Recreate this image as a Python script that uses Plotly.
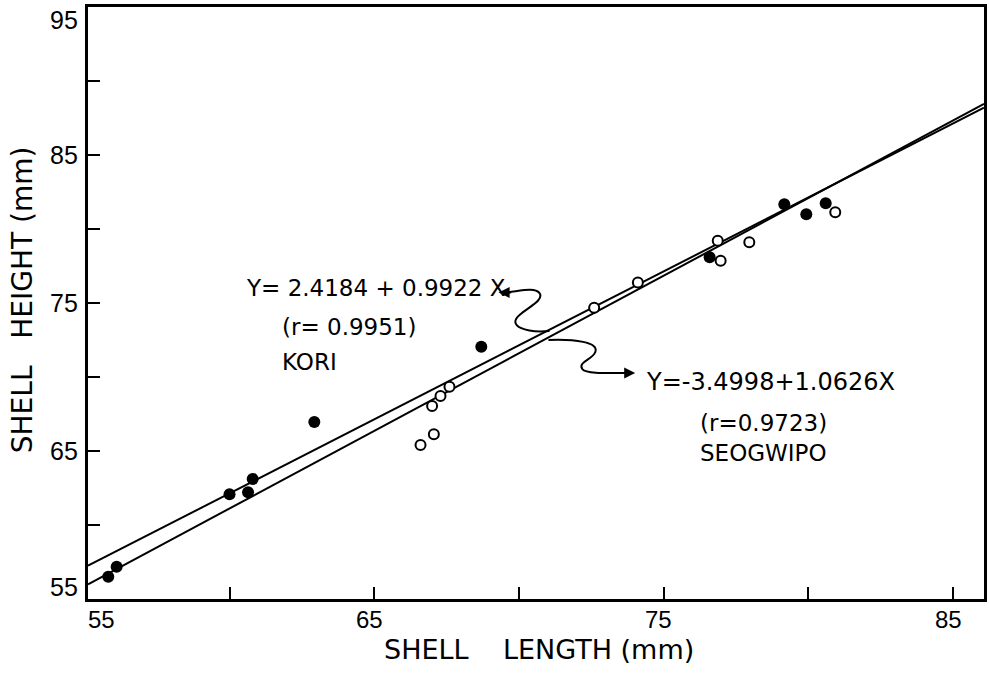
import plotly.graph_objects as go

# ---- data ----
kori_x = [55.81, 56.10, 60.00, 60.64, 60.80, 62.93, 68.70, 76.59, 79.17, 79.93, 80.60]
kori_y = [56.51, 57.18, 62.07, 62.21, 63.11, 66.96, 72.05, 78.09, 81.67, 81.00, 81.74]
seog_x = [66.60, 67.06, 67.00, 67.29, 67.60, 72.60, 74.11, 76.87, 76.97, 77.96, 80.93]
seog_y = [65.41, 66.13, 68.04, 68.72, 69.34, 74.68, 76.39, 79.21, 77.86, 79.10, 81.13]

fit_x = [55.11, 86.07]
kori_fit_y = [57.25, 88.20]
seog_fit_y = [55.99, 88.45]

x_ticks = [55, 60, 65, 70, 75, 80, 85]
x_tick_labels = ["55", "", "65", "", "75", "", "85"]
y_ticks = [55, 60, 65, 70, 75, 80, 85, 90, 95]
y_tick_labels = ["55", "", "65", "", "75", "", "85", "", "95"]

kori_text = ["Y= 2.4184 + 0.9922 X", "(r= 0.9951)", "KORI"]
seog_text = ["Y=-3.4998+1.0626X", "(r=0.9723)", "SEOGWIPO"]

x_title = "SHELL\u00a0\u00a0\u00a0\u00a0LENGTH\u00a0(mm)"
y_title = "SHELL\u00a0\u00a0\u00a0HEIGHT\u00a0(mm)"

# ---- layout geometry ----
W, H = 989, 673
L, R, T, B = 88, 2, 7, 74
PW, PH = W - L - R, H - T - B
X_RANGE = [55.11, 86.07]
Y_RANGE = [55, 95]

def px(xp):
    return (xp - L) / PW

def py(yp):
    return (H - B - yp) / PH

YTICK_FONT = dict(family="Liberation Sans, Arial, sans-serif", size=25, color="black")
XTICK_FONT = dict(family="Liberation Sans, Arial, sans-serif", size=24, color="black")
TXT_FONT = dict(family="DejaVu Sans, sans-serif", size=23, color="black")
XTITLE_FONT = dict(family="DejaVu Sans, sans-serif", size=27, color="black")
YTITLE_FONT = dict(family="DejaVu Sans, sans-serif", size=28, color="black")

fig = go.Figure()
fig.add_trace(go.Scatter(x=fit_x, y=kori_fit_y, mode="lines",
                         line=dict(color="black", width=2), hoverinfo="skip"))
fig.add_trace(go.Scatter(x=fit_x, y=seog_fit_y, mode="lines",
                         line=dict(color="black", width=2), hoverinfo="skip"))
fig.add_trace(go.Scatter(x=kori_x, y=kori_y, mode="markers", name="KORI",
                         marker=dict(symbol="circle", size=12, color="black")))
fig.add_trace(go.Scatter(x=seog_x, y=seog_y, mode="markers", name="SEOGWIPO",
                         marker=dict(symbol="circle", size=10, color="white",
                                     line=dict(color="black", width=2))))

ann = []
# y tick labels
for v, t in zip(y_ticks, y_tick_labels):
    if not t:
        continue
    if v == Y_RANGE[1]:
        ya, sh = "top", 3
    elif v == Y_RANGE[0]:
        ya, sh = "bottom", -4
    else:
        ya, sh = "middle", 0
    ann.append(dict(x=0, xref="paper", y=v, yref="y", text=t, showarrow=False,
                    xanchor="right", yanchor=ya, xshift=-8, yshift=sh, font=YTICK_FONT))
# x tick labels
for v, t in zip(x_ticks, x_tick_labels):
    if not t:
        continue
    if v == 55:
        ann.append(dict(x=X_RANGE[0], xref="x", y=0, yref="paper", text=t, showarrow=False,
                        xanchor="left", yanchor="top", yshift=-5, xshift=-2, font=XTICK_FONT))
    else:
        ann.append(dict(x=v, xref="x", y=0, yref="paper", text=t, showarrow=False,
                        xanchor="center", yanchor="top", yshift=-5, xshift=-5, font=XTICK_FONT))

# axis titles
ann.append(dict(x=px(541), y=py(649), xref="paper", yref="paper", text=x_title,
                showarrow=False, xanchor="center", yanchor="middle", font=XTITLE_FONT))
ann.append(dict(x=px(22), y=py(300), xref="paper", yref="paper", text=y_title,
                showarrow=False, xanchor="center", yanchor="middle", textangle=-90,
                font=YTITLE_FONT))

# equation labels
for (xl, yl), t in zip([(245, 288), (281, 327), (281, 362)], kori_text):
    ann.append(dict(x=px(xl), y=py(yl), xref="paper", yref="paper", text=t,
                    showarrow=False, xanchor="left", yanchor="middle", font=TXT_FONT))
for (xl, yl), t in zip([(646, 382), (700, 423), (700, 453)], seog_text):
    ann.append(dict(x=px(xl), y=py(yl), xref="paper", yref="paper", text=t,
                    showarrow=False, xanchor="left", yanchor="middle",
                    font=dict(TXT_FONT, size=24) if t.startswith("Y") else TXT_FONT))

# arrowheads
ann.append(dict(x=px(500), y=py(292.5), xref="paper", yref="paper", text="",
                showarrow=True, ax=14, ay=0, arrowhead=2, arrowsize=1.1,
                arrowwidth=2, arrowcolor="black"))
ann.append(dict(x=px(637), y=py(373), xref="paper", yref="paper", text="",
                showarrow=True, ax=-14, ay=0, arrowhead=2, arrowsize=1.1,
                arrowwidth=2, arrowcolor="black"))

def path_from(cmds):
    out = []
    for c in cmds:
        op, pts = c[0], c[1:]
        out.append(op + " " + " ".join(f"{px(a):.5f},{py(b):.5f}" for a, b in pts))
    return " ".join(out)

kori_squiggle = path_from([
    ("M", (551, 331)),
    ("C", (527, 333), (508, 326), (521, 315)),
    ("C", (530, 307), (546, 300), (541, 293)),
    ("C", (536, 287), (522, 291), (506, 292.5)),
])
seog_squiggle = path_from([
    ("M", (550, 340)),
    ("C", (576, 339), (601, 342), (597, 352)),
    ("C", (594, 360), (579, 362), (584, 369)),
    ("C", (588, 374), (610, 373), (630, 373)),
])

shapes = [
    dict(type="path", path=kori_squiggle, xref="paper", yref="paper",
         line=dict(color="black", width=2)),
    dict(type="path", path=seog_squiggle, xref="paper", yref="paper",
         line=dict(color="black", width=2)),
]

axis_common = dict(showgrid=False, zeroline=False, ticks="inside", ticklen=12,
                   tickwidth=2, tickcolor="black", showticklabels=False,
                   showline=True, linewidth=2.5, linecolor="black", mirror=True)

fig.update_layout(
    width=W, height=H,
    margin=dict(l=L, r=R, t=T, b=B, pad=0),
    paper_bgcolor="white", plot_bgcolor="white",
    showlegend=False,
    xaxis=dict(range=X_RANGE, tickvals=x_ticks, **axis_common),
    yaxis=dict(range=Y_RANGE, tickvals=y_ticks, **axis_common),
    annotations=ann,
    shapes=shapes,
)

fig.write_html("out.html")
